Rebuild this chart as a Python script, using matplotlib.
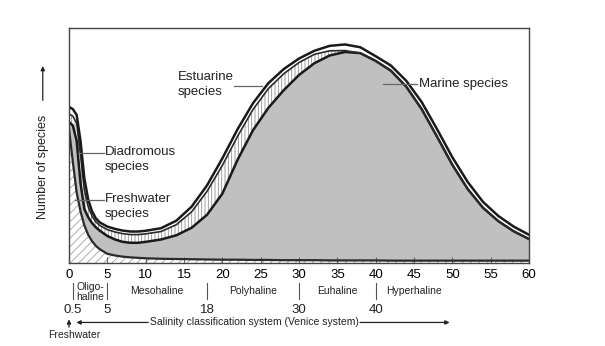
import numpy as np
import matplotlib
matplotlib.use("Agg")
import matplotlib.pyplot as plt

plt.rcParams['font.family'] = ['Liberation Sans', 'DejaVu Sans']
plt.rcParams['hatch.linewidth'] = 0.6

# salinity (x) and top of each stacked group (number of species, relative units)
salinity = [0, 0.5, 1, 1.5, 2, 2.5, 3, 3.5, 4, 5, 6, 7, 8, 9, 10,
            12, 14, 16, 18, 20, 22, 24, 26, 28, 30, 32, 34, 36, 38, 40,
            42, 44, 46, 48, 50, 52, 54, 56, 58, 60]
freshwater_top = [57, 43, 30, 22, 16, 12, 9.3, 7.3, 5.9, 3.9, 3.2, 2.7, 2.4, 2.2, 2,
                  1.8, 1.7, 1.6, 1.5, 1.4, 1.4, 1.3, 1.3, 1.2, 1.2, 1.2, 1.1, 1.1, 1.1, 1.1,
                  1.0, 1.0, 1.0, 1.0, 1.0, 1.0, 1.0, 1.0, 1.0, 1.0]
marine_top = [60, 58.5, 52, 34, 23, 19.5, 17, 15.2, 13.8, 11.5, 10, 9, 8.6, 8.6, 9,
              10, 11.8, 15, 20.5, 29.5, 44, 56.5, 66, 73.5, 80, 85, 88.3, 89.8, 89.3, 86,
              81.8, 75, 65.5, 53.8, 41.8, 31.5, 23.5, 17.8, 13.5, 10.2]
estuarine_top = [63.5, 62.5, 59.5, 46, 31, 24, 20, 17.5, 16, 14.2, 13.2, 12.5, 12.1, 12.1, 12.4,
                 13.4, 16.3, 21.8, 30.5, 41.5, 54, 65.3, 74.2, 80.5, 85.3, 88.8, 90.3, 90.4, 89.3, 86,
                 81.8, 75, 65.5, 53.8, 41.8, 31.5, 23.5, 17.8, 13.5, 10.2]
diadromous_top = [66.4, 65.5, 63, 52, 36, 27, 22, 19, 17.3, 15.5, 14.5, 13.8, 13.4, 13.4, 13.7,
                  14.8, 18, 24, 33, 44.5, 57, 68, 76.5, 82.5, 87, 90.3, 92.4, 93, 91.8, 88,
                  84, 77.5, 68.5, 57, 45, 34.5, 26, 20, 15.5, 12]

xticks = list(range(0, 61, 5))
zone_names = ['Mesohaline', 'Polyhaline', 'Euhaline', 'Hyperhaline']
zone_centers = [11.5, 24, 35, 45]
zone_limits = [18, 30, 40]
limit_labels = ['0.5', '5', '18', '30', '40']
limit_pos = [0.5, 5, 18, 30, 40]

x = np.array(salinity)
c1 = np.array(freshwater_top)
c2 = np.array(marine_top)
c3 = np.array(estuarine_top)
c4 = np.array(diadromous_top)

fig = plt.figure(figsize=(6.05, 3.46), dpi=100)
ax = fig.add_axes([69/605, 83/346, 460/605, 235/346])

# fills
ax.fill_between(x, 0, c1, facecolor='white', edgecolor='#a0a0a0', hatch='////', lw=0)
ax.fill_between(x, c1, c2, facecolor='#c0c0c0', lw=0)
ax.fill_between(x, c2, c3, facecolor='white', edgecolor='#909090', hatch='|||||', lw=0)
ax.fill_between(x, c3, c4, facecolor='white', lw=0)

# outlines
ax.plot(x, c1, color='#2a2a2a', lw=1.6)
ax.plot(x, c2, color='#1a1a1a', lw=1.8)
ax.plot(x, c3, color='#2a2a2a', lw=1.2)
ax.plot(x, c4, color='#1a1a1a', lw=1.8)

ax.set_xlim(0, 60)
ax.set_ylim(0, 100)
ax.set_xticks(xticks)
ax.set_yticks([])
ax.tick_params(axis='x', direction='in', length=4, color='#666666', labelsize=9.5, pad=4)
for s in ax.spines.values():
    s.set_color('#444444')
    s.set_linewidth(1)

# group labels with leader lines
lab = dict(fontsize=9.5, color='#222222', va='center', ha='left', linespacing=1.25)
ax.text(14.2, 76, 'Estuarine\nspecies', **lab)
ax.plot([21.5, 25.2], [75.5, 75.5], color='#666666', lw=0.9)
ax.text(45.7, 76, 'Marine species', **lab)
ax.plot([41.0, 45.4], [76, 76], color='#666666', lw=0.9)
ax.text(4.7, 44, 'Diadromous\nspecies', **lab)
ax.plot([1.2, 4.5], [47, 47], color='#666666', lw=0.9)
ax.text(4.7, 24, 'Freshwater\nspecies', **lab)
ax.plot([0.8, 4.5], [27, 27], color='#666666', lw=0.9)

# salinity classification rows below axis
tr = ax.get_xaxis_transform()
small = dict(fontsize=7.5, color='#222222', ha='center', va='center', transform=tr)
for name, cx in zip(zone_names, zone_centers):
    ax.text(cx, -0.12, name, **small)
ax.text(2.75, -0.10, 'Oligo-', **small)
ax.text(2.75, -0.145, 'haline', **small)
for lim in [0.5, 5] + zone_limits:
    ax.plot([lim, lim], [-0.085, -0.155], color='#555555', lw=0.8, transform=tr, clip_on=False)
for lbl, px in zip(limit_labels, limit_pos):
    ax.text(px, -0.198, lbl, fontsize=9.5, color='#222222', ha='center', va='center', transform=tr)

ax.text(24.2, -0.253, 'Salinity classification system (Venice system)', **small)
ax.annotate('', xy=(0.6, -0.253), xytext=(10.7, -0.253), xycoords=tr, textcoords=tr,
            arrowprops=dict(arrowstyle='-|>', color='#222222', lw=0.9, mutation_scale=6))
ax.annotate('', xy=(50, -0.253), xytext=(37.6, -0.253), xycoords=tr, textcoords=tr,
            arrowprops=dict(arrowstyle='-|>', color='#222222', lw=0.9, mutation_scale=6))
ax.annotate('', xy=(0, -0.228), xytext=(0, -0.285), xycoords=tr, textcoords=tr,
            arrowprops=dict(arrowstyle='-|>', color='#222222', lw=0.9, mutation_scale=6))
ax.text(0.7, -0.308, 'Freshwater', fontsize=7.5, color='#222222', ha='center', va='center', transform=tr)

# y label with arrow
ax.text(-0.057, 0.41, 'Number of species', rotation=90, fontsize=9, color='#222222',
        ha='center', va='center', transform=ax.transAxes)
ax.annotate('', xy=(-0.057, 0.85), xytext=(-0.057, 0.68), xycoords='axes fraction',
            arrowprops=dict(arrowstyle='-|>', color='#222222', lw=0.9, mutation_scale=6))

fig.savefig('out.png', dpi=100)
